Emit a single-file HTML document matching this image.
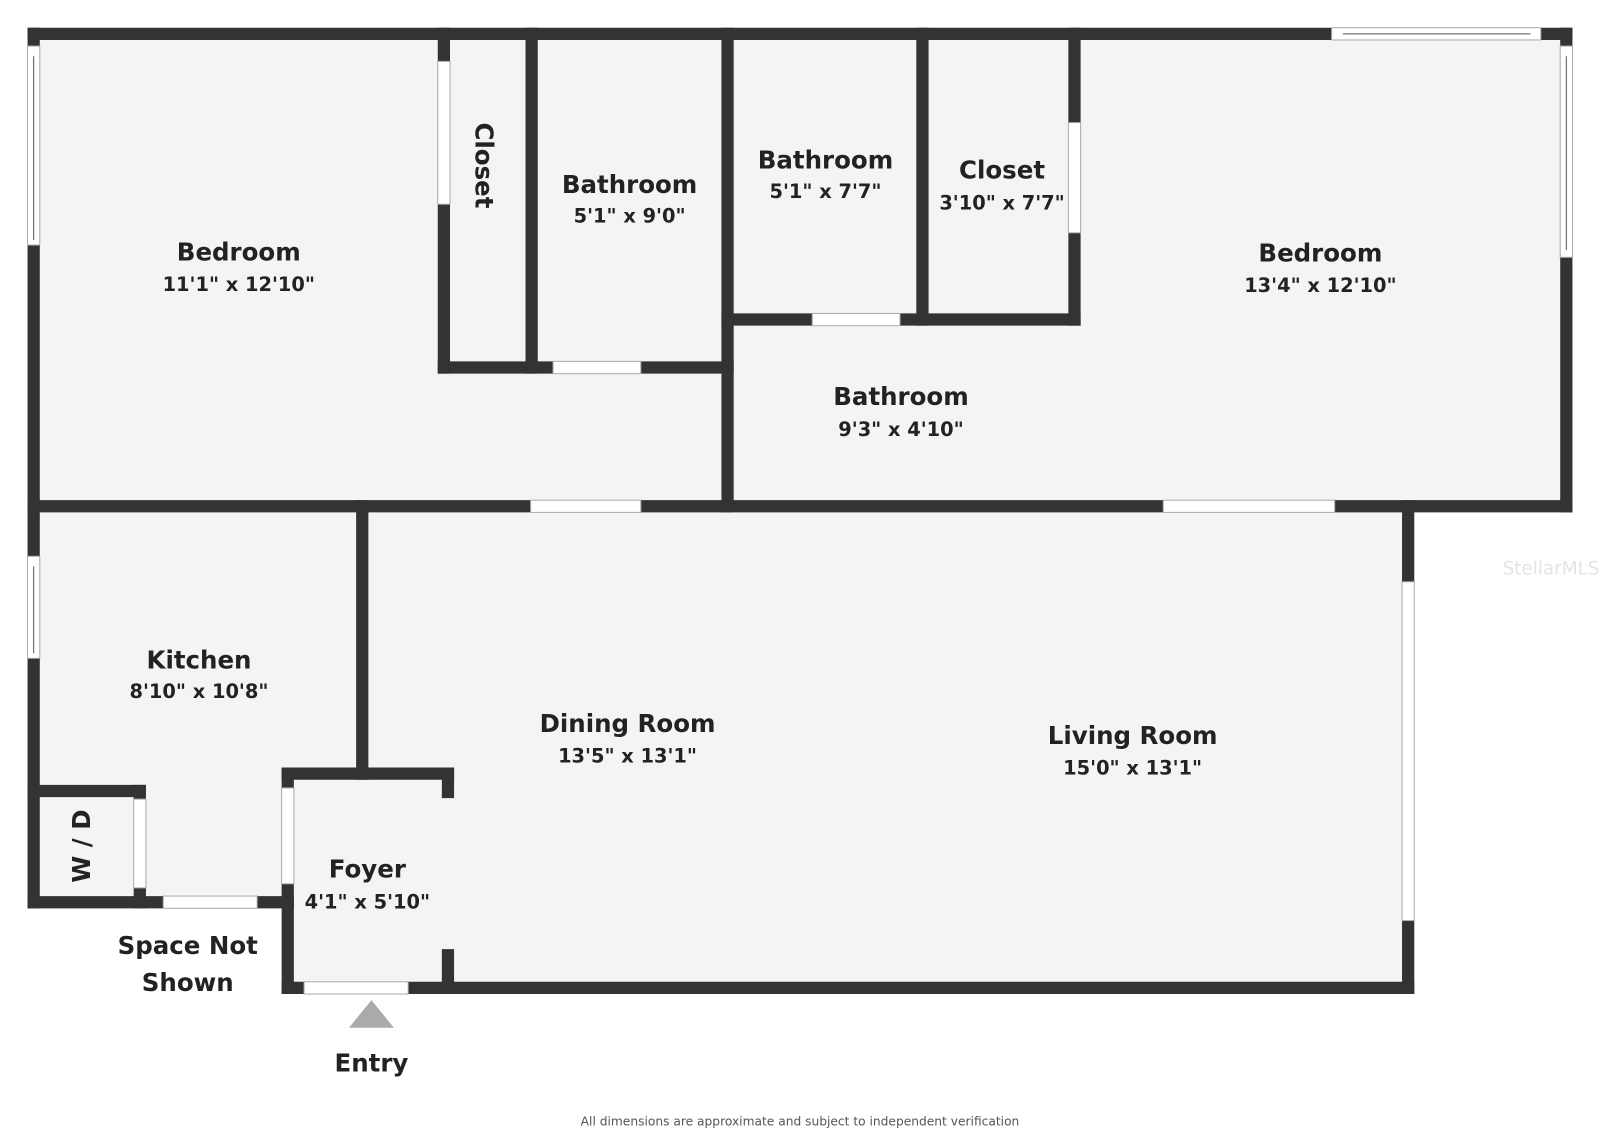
<!DOCTYPE html>
<html><head><meta charset="utf-8"><style>
html,body{margin:0;padding:0;background:#fff;}
svg{display:block;}
text{font-family:"DejaVu Sans","Liberation Sans",sans-serif;font-weight:bold;fill:#222;text-anchor:middle;}
.n{font-size:24px;}
.d{font-size:19px;}
</style></head><body>
<svg width="1600" height="1135" viewBox="0 0 1568 1112" xmlns="http://www.w3.org/2000/svg">
<rect width="1568" height="1112" fill="#fff"/>
<!-- floors -->
<g fill="#f4f4f4">
<rect x="33" y="33" width="1502" height="463"/>
<rect x="33" y="496" width="1347" height="388"/>
<rect x="282" y="758" width="1098" height="210"/>
</g>
<!-- walls -->
<g stroke="#333" stroke-width="12" stroke-linecap="square" fill="none">
<line x1="33" y1="33" x2="1535" y2="33"/>
<line x1="33" y1="33" x2="33" y2="884"/>
<line x1="1535" y1="33" x2="1535" y2="496"/>
<line x1="33" y1="496" x2="1535" y2="496"/>
<line x1="1380" y1="496" x2="1380" y2="968"/>
<line x1="282" y1="968" x2="1380" y2="968"/>
<line x1="282" y1="758" x2="282" y2="968"/>
<line x1="33" y1="884" x2="282" y2="884"/>
<line x1="33" y1="775" x2="137" y2="775"/>
<line x1="137" y1="775" x2="137" y2="884"/>
<line x1="355" y1="496" x2="355" y2="758"/>
<line x1="282" y1="758" x2="439" y2="758"/>
<line x1="439" y1="758" x2="439" y2="776"/>
<line x1="439" y1="936" x2="439" y2="968"/>
<line x1="435" y1="33" x2="435" y2="360"/>
<line x1="521" y1="33" x2="521" y2="360"/>
<line x1="435" y1="360" x2="713" y2="360"/>
<line x1="713" y1="33" x2="713" y2="496"/>
<line x1="904" y1="33" x2="904" y2="313"/>
<line x1="713" y1="313" x2="1053" y2="313"/>
<line x1="1053" y1="33" x2="1053" y2="313"/>
</g>
<!-- windows/doors -->
<g fill="#fff" stroke="#aaa" stroke-width="1">
<rect x="27" y="45" width="12" height="195"/>
<rect x="27" y="545" width="12" height="100"/>
<rect x="1305" y="27" width="205" height="12"/>
<rect x="1529" y="45" width="12" height="207"/>
<rect x="429" y="60" width="12" height="140"/>
<rect x="542" y="354" width="86" height="12"/>
<rect x="796" y="307" width="86" height="12"/>
<rect x="1047" y="120" width="12" height="108"/>
<rect x="520" y="490" width="108" height="12"/>
<rect x="1140" y="490" width="168" height="12"/>
<rect x="1374" y="570" width="12" height="332"/>
<rect x="276" y="772" width="12" height="94"/>
<rect x="160" y="878" width="92" height="12"/>
<rect x="298" y="962" width="102" height="12"/>
<rect x="131" y="783" width="12" height="87"/>
</g>
<g stroke="#555" stroke-width="1">
<line x1="1316" y1="33" x2="1500" y2="33"/>
<line x1="1535" y1="55" x2="1535" y2="245"/>
<line x1="33" y1="55" x2="33" y2="235"/>
<line x1="33" y1="555" x2="33" y2="640"/>
</g>
<!-- labels -->
<text class="n" x="234" y="255">Bedroom</text><text class="d" x="234" y="285">11'1" x 12'10"</text>
<text class="n" x="617" y="189">Bathroom</text><text class="d" x="617" y="218">5'1" x 9'0"</text>
<text class="n" x="809" y="165">Bathroom</text><text class="d" x="809" y="194">5'1" x 7'7"</text>
<text class="n" x="982" y="175">Closet</text><text class="d" x="982" y="205">3'10" x 7'7"</text>
<text class="n" x="1294" y="256">Bedroom</text><text class="d" x="1294" y="286">13'4" x 12'10"</text>
<text class="n" x="883" y="397">Bathroom</text><text class="d" x="883" y="427">9'3" x 4'10"</text>
<text class="n" transform="translate(466,162) rotate(90)" x="0" y="0">Closet</text>
<text class="n" x="195" y="655">Kitchen</text><text class="d" x="195" y="684">8'10" x 10'8"</text>
<text class="n" x="615" y="717">Dining Room</text><text class="d" x="615" y="747">13'5" x 13'1"</text>
<text class="n" x="1110" y="729">Living Room</text><text class="d" x="1110" y="759">15'0" x 13'1"</text>
<text class="n" x="360" y="860">Foyer</text><text class="d" x="360" y="890">4'1" x 5'10"</text>
<text class="n" transform="translate(88,829) rotate(-90)" x="0" y="0">W / D</text>
<text class="n" x="184" y="935">Space Not</text><text class="n" x="184" y="971">Shown</text>
<polygon points="364,980 342,1007 386,1007" fill="#aaa"/>
<text class="n" x="364" y="1050">Entry</text>
<text x="784" y="1103" style="font-size:12px;font-weight:normal;fill:#555">All dimensions are approximate and subject to independent verification</text>
<text x="1520" y="563" style="font-size:18px;font-weight:normal;fill:#e4e4e4">StellarMLS</text>
</svg>
</body></html>
